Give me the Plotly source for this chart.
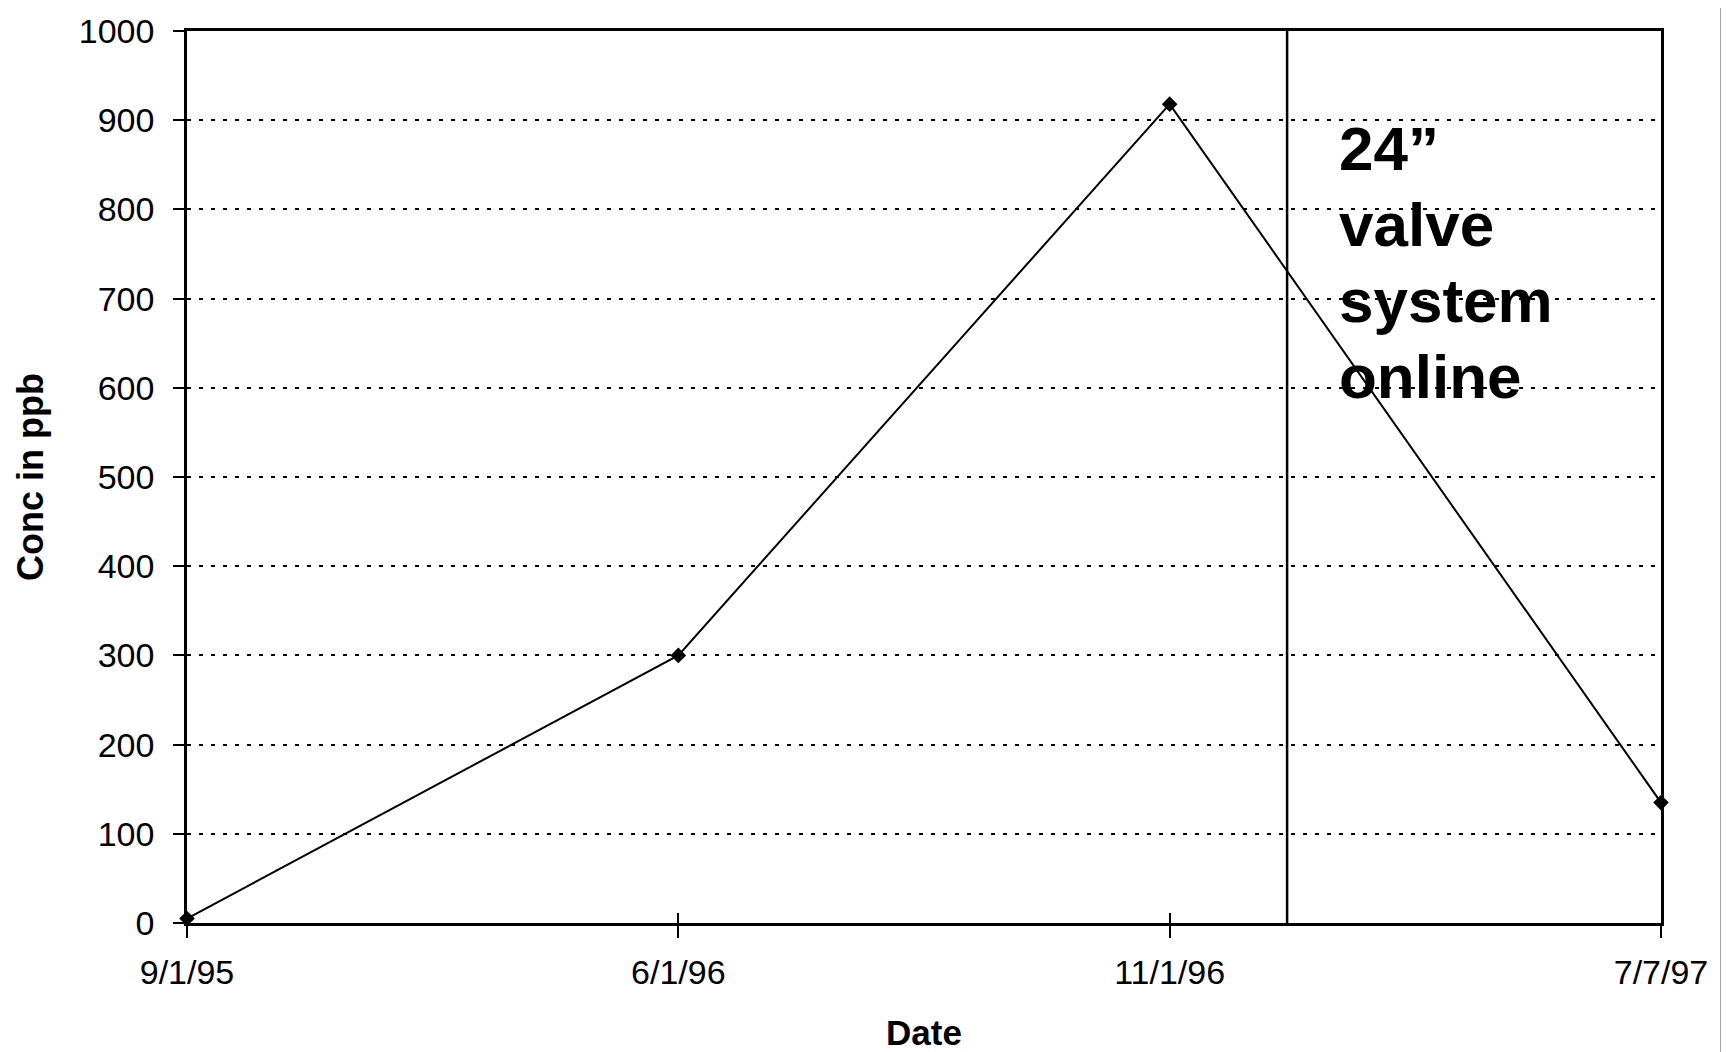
import plotly.graph_objects as go

# ---- data ----
dates = ["9/1/95", "6/1/96", "11/1/96", "7/7/97"]
conc_ppb = [5, 300, 918, 135]
y_ticks = [0, 100, 200, 300, 400, 500, 600, 700, 800, 900, 1000]
event_position = 2.239          # valve system start (between 11/1/96 and 7/7/97)
event_lines = ["24”", "valve", "system", "online"]
label_position = 2.34
label_top = 909
label_step = 85

FONT = "Liberation Sans, Arial, sans-serif"

fig = go.Figure()

fig.add_trace(go.Scatter(
    x=dates, y=conc_ppb, mode="lines+markers",
    line=dict(color="black", width=2),
    marker=dict(symbol="diamond", size=12, color="black"),
    showlegend=False, cliponaxis=False,
))
# invisible twin trace to carry the inside half of the crossing x ticks
fig.add_trace(go.Scatter(
    x=dates, y=conc_ppb, xaxis="x2", mode="markers",
    marker=dict(size=1, opacity=0), showlegend=False, hoverinfo="skip",
))

fig.add_shape(type="line", xref="x", yref="y",
              x0=event_position, x1=event_position, y0=0, y1=1000,
              line=dict(color="black", width=2.5))

for i, line_text in enumerate(event_lines):
    fig.add_annotation(x=label_position, y=label_top - i * label_step,
                       xref="x", yref="y", xanchor="left", yanchor="top",
                       align="left", text="<b>" + line_text + "</b>", showarrow=False,
                       font=dict(family=FONT, size=62, color="black"))

# scanned paper edge
fig.add_shape(type="line", xref="paper", yref="paper",
              x0=1.0407, x1=1.0407, y0=-0.15, y1=1.04,
              line=dict(color="#888888", width=1.5))

fig.update_layout(
    width=1721, height=1044,
    margin=dict(l=179, r=68, t=23, b=129),
    paper_bgcolor="white", plot_bgcolor="white",
    font=dict(family=FONT, color="black"),
    xaxis=dict(
        type="category", categoryorder="array", categoryarray=dates,
        range=[0, 3], showgrid=False, zeroline=False,
        showline=True, linecolor="black", linewidth=2.5, mirror=True,
        ticks="outside", ticklen=12, tickwidth=2, tickcolor="black",
        ticklabelstandoff=5,
        tickfont=dict(family=FONT, size=34, color="black"),
        title=dict(text="<b>Date</b>", font=dict(family=FONT, size=35, color="black"), standoff=31),
        automargin=False,
    ),
    xaxis2=dict(
        type="category", categoryorder="array", categoryarray=dates,
        range=[0, 3], overlaying="x", anchor="y", side="bottom",
        showgrid=False, zeroline=False, showline=False,
        ticks="inside", ticklen=10, tickwidth=2, tickcolor="black",
        showticklabels=False,
    ),
    yaxis=dict(
        range=[0, 1000], tickvals=y_ticks, showgrid=True,
        gridcolor="black", gridwidth=2, griddash="4px,8px",
        zeroline=False, showline=True, linecolor="black", linewidth=2.5, mirror=True,
        ticks="outside", ticklen=11, tickwidth=2, tickcolor="black",
        ticklabelstandoff=12,
        tickfont=dict(family=FONT, size=34, color="black"),
        title=dict(text="<b>Conc in ppb</b>", font=dict(family=FONT, size=36, color="black"), standoff=25),
        automargin=False,
    ),
)

fig.write_html("out.html")
